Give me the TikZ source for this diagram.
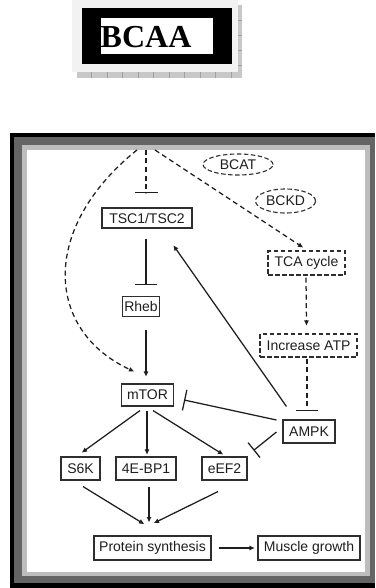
\documentclass[tikz,border=0pt]{standalone}
\usepackage{fontspec}
\setmainfont{Liberation Sans}
\newfontfamily\bcaafont{Liberation Serif}
\usetikzlibrary{arrows.meta,shapes.geometric,calc}
\definecolor{ink}{HTML}{1E1E1E}
\definecolor{boxline}{HTML}{2E2E2E}
\definecolor{darkband}{HTML}{646464}
\definecolor{lightband}{HTML}{BDBDBD}
\definecolor{panel}{HTML}{F2F2F2}
\definecolor{shadowgray}{HTML}{C8C8C8}
\definecolor{tickgray}{HTML}{A0A0A0}
\tikzset{
  box/.style={draw=boxline, line width=1.1pt, fill=white, inner sep=0pt, text=ink,
              font=\fontsize{14}{16}\selectfont, align=center},
  dbox/.style={box, dash pattern=on 4.5pt off 2.5pt},
  oval/.style={ellipse, draw=boxline, line width=1.1pt, inner sep=0pt, text=ink,
               dash pattern=on 4.5pt off 2.5pt, font=\fontsize{14}{16}\selectfont},
  conn/.style={draw=ink, line width=1.25pt},
  dconn/.style={conn, dash pattern=on 5pt off 3.5pt},
  arr/.style={-{Triangle[length=5pt,width=4.2pt]}},
  inh/.style={-{Bar[width=#1,line width=1.25pt]}},
}
\begin{document}
\begin{tikzpicture}[x=1pt,y=-1pt]
\useasboundingbox (0,0) rectangle (375,588);
% ---- BCAA label panel ----
\fill[shadowgray] (77,72) rectangle (242,78);
\fill[shadowgray] (238,5) rectangle (242,78);
\foreach \tx in {91.7,107.2,122.7,138.2,153.7,169.2,184.7,200.2,215.7,231.2}
  \draw[tickgray, line width=0.5pt] (\tx,72) -- (\tx,78);
\foreach \ty in {20,35,50,65}
  \draw[tickgray, line width=0.5pt] (238,\ty) -- (242,\ty);
\fill[panel] (72,0) rectangle (238,72);
\fill[black] (82,8) rectangle (232,64);
\fill[white] (101,18) rectangle (213,54);
\node[anchor=base west, inner sep=0pt, font=\bcaafont\bfseries\fontsize{32}{34}\selectfont] (bcaa) at (100.5,47.5) {BCAA};
% ---- frame ----
\fill[black] (10,133) rectangle (375,588);
\fill[darkband] (14,137) rectangle (375,583);
\fill[lightband] (22,145) rectangle (370,576);
\fill[white] (27,150) rectangle (365,572);
% ---- nodes ----
\node[oval, minimum width=70pt, minimum height=21pt] (bcat) at (238,164.5) {BCAT};
\node[oval, minimum width=60pt, minimum height=24pt] (bckd) at (285.5,201) {BCKD};
\node[box, minimum width=90pt, minimum height=20pt] (tsc) at (147,218) {TSC1/TSC2};
\node[box, minimum width=37pt, minimum height=19.5pt] (rheb) at (141,306.5) {Rheb};
\node[dbox, minimum width=77pt, minimum height=24pt] (tca) at (306.5,263) {TCA cycle};
\node[dbox, minimum width=97pt, minimum height=23pt] (atp) at (308.5,345.5) {Increase ATP};
\node[box, minimum width=52pt, minimum height=22pt] (mtor) at (147.5,395) {mTOR};
\node[box, minimum width=52pt, minimum height=23pt] (ampk) at (309,431.5) {AMPK};
\node[box, minimum width=39pt, minimum height=23pt] (s6k) at (80.5,468.5) {S6K};
\node[box, minimum width=60pt, minimum height=23pt] (bp) at (146,468.5) {4E-BP1};
\node[box, minimum width=45pt, minimum height=23pt] (eef) at (224.5,468.5) {eEF2};
\node[box, minimum width=117pt, minimum height=24pt] (ps) at (152.5,548) {Protein synthesis};
\node[box, minimum width=102pt, minimum height=24pt] (mg) at (309,548) {Muscle growth};
\coordinate (top) at (146,150);
\coordinate (conv) at (149,524);
% ---- dashed BCAA signalling ----
\draw[dconn, inh=23pt] (top) -- ($(tsc.north)+(-1,-14)$);
\draw[dconn, arr] ($(top)+(9,0)$) -- ($(tca.north)+(-3.5,-3)$);
\draw[dconn, arr] ($(top)+(-9,0)$) .. controls (40,228) and (45,330) .. ($(mtor.north west)+(13,-12)$);
\draw[dconn, arr] ($(tca.south)+(-0.5,2)$) -- ($(atp.north)+(-2,-8)$);
\draw[dconn, inh=22pt] ($(atp.south)+(-1.5,1)$) -- ($(ampk.north)+(-2,-8)$);
% ---- solid connectors ----
\draw[conn, inh=22pt] ($(tsc.south)+(-1,10)$) -- ($(rheb.north)+(5,-11)$);
\draw[conn, arr] ($(rheb.south)+(5,13)$) -- ($(mtor.north)+(-1.5,-7)$);
\draw[conn, arr] ($(ampk.north west)+(4,-13)$) -- ($(tsc.south east)+(-19,17)$);
\draw[conn, inh=21pt] ($(ampk.west)+(-6,-11.5)$) -- ($(mtor.east)+(10,5)$);
\draw[conn, inh=19pt] ($(ampk.west)+(-6,0.5)$) -- ($(eef.north east)+(6,-6)$);
\draw[conn, arr] ($(mtor.south)+(-7.5,4)$) -- ($(s6k.north)+(1.5,-4)$);
\draw[conn, arr] ($(mtor.south)+(-0.5,4)$) -- ($(bp.north)+(1,-2)$);
\draw[conn, arr] ($(mtor.south)+(5.5,4)$) -- ($(eef.north)+(-1.5,-2)$);
\draw[conn, arr] ($(s6k.south)+(2.5,6)$) -- ($(conv)+(-5,0)$);
\draw[conn, arr] ($(bp.south)+(3,6)$) -- ($(conv)+(0,-2)$);
\draw[conn, arr] ($(eef.south)+(-6.5,11)$) -- ($(conv)+(5,-1)$);
\draw[conn, arr] ($(ps.east)+(7,0)$) -- ($(mg.west)+(-3,0)$);
\end{tikzpicture}
\end{document}
